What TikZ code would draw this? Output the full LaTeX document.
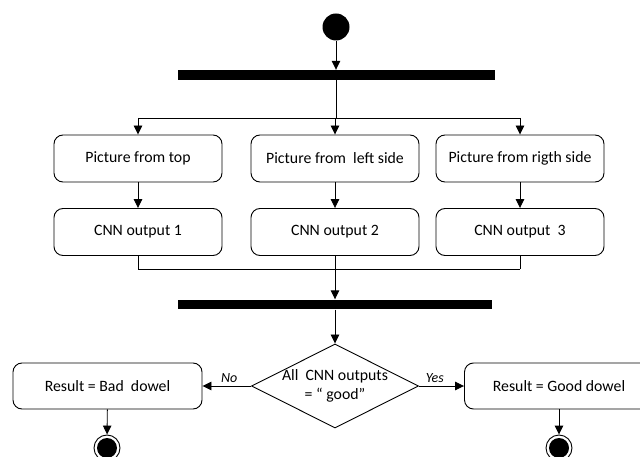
\documentclass[tikz,border=0pt]{standalone}
\usepackage{fontspec}
\setmainfont{Carlito}
\usetikzlibrary{arrows.meta,shapes.geometric}
\tikzset{
  actbox/.style={draw,rounded corners=9pt,minimum width=168pt,minimum height=47pt,inner sep=0pt,font=\fontsize{15.8}{19}\selectfont},
  forkbar/.style={fill=black,inner sep=0pt,minimum height=9.5pt},
  flow/.style={-{Triangle[length=9pt,width=8.5pt]}},
  endstate/.style={circle,draw,fill=white,minimum size=26pt,inner sep=0pt,
    path picture={\fill[black] (path picture bounding box.center) circle (10pt);}},
  guard/.style={font=\fontsize{14}{16}\selectfont\itshape},
}
\begin{document}
\begin{tikzpicture}[x=1pt,y=-1pt,line width=0.9pt]
    \useasboundingbox (0,0) rectangle (640,457);
    \node at (336,27)[circle,fill,minimum size=27pt,inner sep=0pt] (start) {};
    \node at (336,75)[forkbar,minimum width=317pt] (fork) {};
    \node at (335,304.5)[forkbar,minimum width=314pt] (merge) {};
    \coordinate (split) at (336,118);
    \coordinate (join) at (335,269);
    \draw[flow] (start) -- (fork);
    \draw (fork) -- (split);
    \foreach \x/\n/\t/\c in {138/1/Picture from top/CNN output 1,
        335/2/Picture from\ \ left side/CNN output 2,
        520/3/Picture from rigth side/CNN output\ \ 3}
    {
        \node at (\x,158.5)[actbox] (pic\n) {\t};
        \node at (\x,232)[actbox] (cnn\n) {\c};
        \draw[flow] (pic\n |- split) -- (pic\n);
        \draw[flow] (pic\n) -- (cnn\n);
        \draw (cnn\n) -- (cnn\n |- join);
    }
    \draw (cnn1 |- join) -- (cnn3 |- join);
    \draw (pic1 |- split) -- (pic3 |- split);
    \draw[flow] (join) -- (merge);
    \node at (335,386)[draw,diamond,aspect=2,minimum width=167pt,minimum height=84pt,inner sep=-4pt,
        align=center,font=\fontsize{15.8}{19}\selectfont] (check) {All\ \ CNN outputs\\= ``\ good''};
    \draw[flow] (merge) -- (check);
    \node at (107.5,386)[actbox,minimum width=189pt,minimum height=46pt] (bad) {Result = Bad\ \ dowel};
    \node at (559,386)[actbox,minimum width=189pt,minimum height=46pt] (good) {Result = Good dowel};
    \draw[flow] (check.west) -- node[guard,above,pos=0.45] (no) {No} (bad.east);
    \draw[flow] (check.east) -- node[guard,above,pos=0.35] (yes) {Yes} (good.west);
    \node at (107,448)[endstate] (endbad) {};
    \node at (559,448)[endstate] (endgood) {};
    \draw[flow] (bad) -- (endbad);
    \draw[flow] (good) -- (endgood);
\end{tikzpicture}
\end{document}
